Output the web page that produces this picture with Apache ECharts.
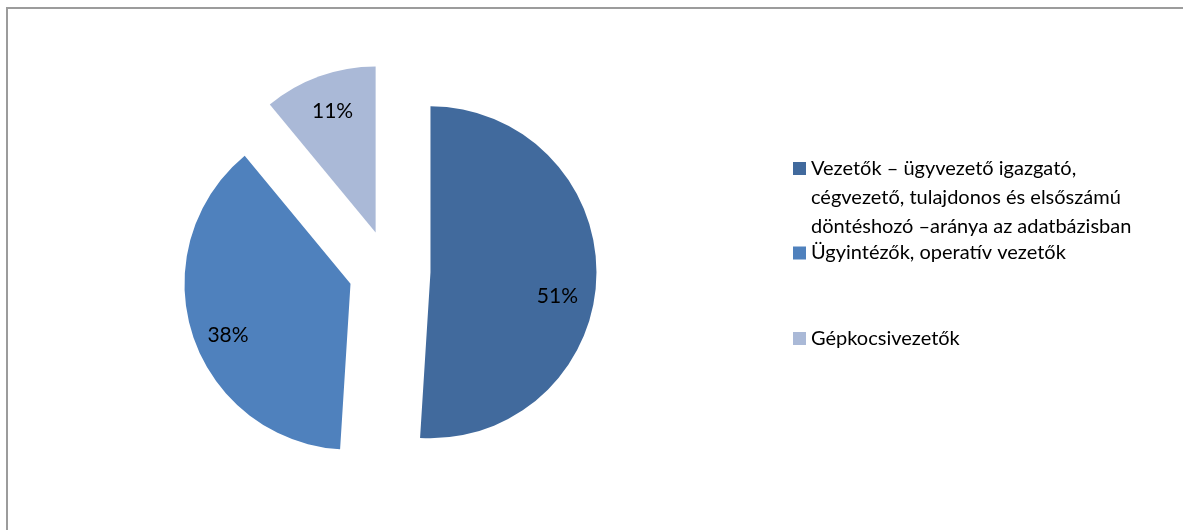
<!DOCTYPE html>
<html>
<head>
<meta charset="utf-8">
<script src="https://cdn.jsdelivr.net/npm/echarts@6/dist/echarts.min.js"></script>
<style>
html,body{margin:0;padding:0;background:#fff;}
#chart{width:1183px;height:530px;}
</style>
</head>
<body>
<div id="chart"></div>
<script>
const categories = [
  'Vezetők – ügyvezető igazgató,\ncégvezető, tulajdonos és elsőszámú\ndöntéshozó –aránya az adatbázisban',
  'Ügyintézők, operatív vezetők',
  'Gépkocsivezetők'
];
const values = [51, 38, 11];
const colors = ['#416A9D', '#4F81BD', '#AAB9D7'];

const FONT = 'Lato';
// styling nudges to match the original label placement
const labelPads = [[0, 12, 0, 0], [0, 0, 0, 8], [0, 0, 0, 4]];
const labelDrop = [20, 10, 4];
const pieData = categories.map((c, i) => ({
  name: c, value: values[i], selected: true,
  itemStyle: { color: colors[i] }
}));
const labelData = categories.map((c, i) => ({
  name: c, value: values[i], selected: true,
  label: { padding: labelPads[i], lineHeight: Math.max(2 * labelDrop[i], 1) }
}));

function makeLegend(i, top, lead) {
  return {
    orient: 'vertical', left: 793, top: top, padding: 0,
    itemWidth: 13, itemHeight: 13, icon: 'rect',
    selectedMode: false,
    formatter: name => lead + name,
    data: [{ name: categories[i], itemStyle: { color: colors[i] },
      textStyle: { fontFamily: FONT, fontSize: 20, color: '#000', lineHeight: 29 } }]
  };
}

const chart = echarts.init(document.getElementById('chart'));
chart.setOption({
  animation: false,
  backgroundColor: '#fff',
  graphic: [{
    type: 'rect', shape: { x: 7, y: 8, width: 1300, height: 700 },
    style: { fill: 'none', stroke: '#9c9c9c', lineWidth: 2 }, silent: true
  }],
  legend: [makeLegend(0, 96, '\n\n'), makeLegend(1, 238.5, ''), makeLegend(2, 324, '')],
  series: [{
    type: 'pie',
    center: [389.5, 271],
    radius: 166,
    startAngle: 90,
    clockwise: true,
    selectedMode: 'multiple',
    selectedOffset: 41,
    label: { show: false },
    labelLine: { show: false },
    emphasis: { disabled: true },
    data: pieData
  }, {
    type: 'pie',
    center: [389.5, 271],
    radius: 260,
    startAngle: 90,
    clockwise: true,
    silent: true,
    selectedMode: 'multiple',
    selectedOffset: 41,
    itemStyle: { color: 'rgba(0,0,0,0)' },
    label: {
      show: true, position: 'inside', color: '#000',
      fontFamily: FONT, fontSize: 21,
      formatter: p => '\n' + Math.round(p.percent) + '%'
    },
    labelLine: { show: false },
    emphasis: { disabled: true },
    data: labelData
  }]
});
</script>
</body>
</html>
